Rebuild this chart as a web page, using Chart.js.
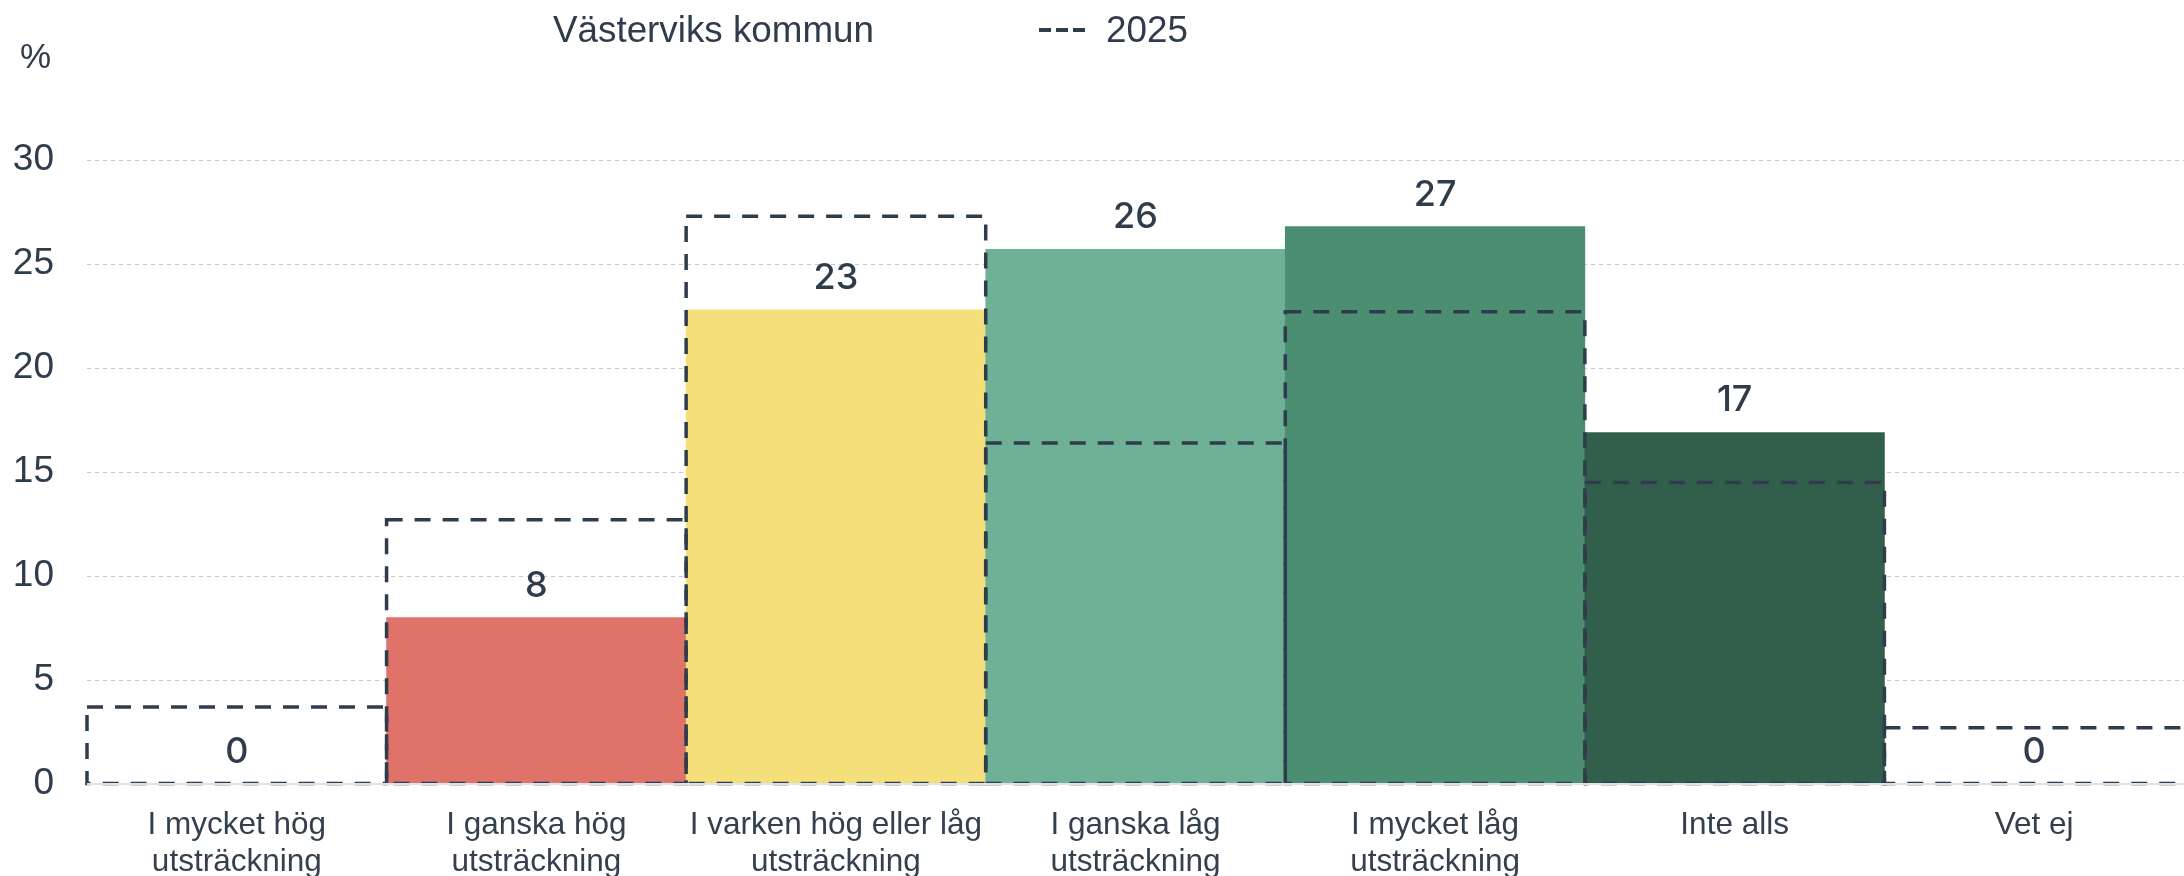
<!DOCTYPE html>
<html>
<head>
<meta charset="utf-8">
<script src="https://cdn.jsdelivr.net/npm/chart.js@4.4.1/dist/chart.umd.min.js"></script>
<style>
  html, body { margin: 0; padding: 0; background: #fff; }
  #wrap { position: relative; width: 2184px; height: 876px; }
  #legend {
    position: absolute; top: 9px; left: 553px;
    font: 36.8px "Liberation Sans", Arial, sans-serif; color: #2f3c4b;
    display: flex; align-items: center; white-space: nowrap;
  }
  #legend .swatch {
    display: inline-block; width: 46px; height: 4px; margin: 0 21px 0 165px;
    background: repeating-linear-gradient(90deg, #2f3c4b 0 12px, transparent 12px 17px);
  }
  #unit {
    position: absolute; left: 20px; top: 36px;
    font: 35px "Liberation Sans", Arial, sans-serif; color: #2f3c4b;
  }
</style>
</head>
<body>
<div id="wrap">
  <canvas id="chart_kommun" width="2184" height="876"></canvas>
  <div id="legend"><span>Västerviks kommun</span><span class="swatch"></span><span>2025</span></div>
  <div id="unit">%</div>
</div>
<script>
// data
const categories = [
  ["I mycket hög", "utsträckning"],
  ["I ganska hög", "utsträckning"],
  ["I varken hög eller låg", "utsträckning"],
  ["I ganska låg", "utsträckning"],
  ["I mycket låg", "utsträckning"],
  "Inte alls",
  "Vet ej",
];
const kommunValues = [0, 8.0, 22.8, 25.7, 26.8, 16.9, 0];
const values2025 = [3.7, 12.7, 27.3, 16.4, 22.7, 14.5, 2.7];
const barColors = ["#e07369", "#e07369", "#f5df7a", "#6fb196", "#4c8e72", "#325e4c", "#325e4c"];
const yTicks = [0, 5, 10, 15, 20, 25, 30];

const darkText = "#2f3c4b";

// dashed 2025 frames + value labels on top of the bars
const overlayPlugin = {
  id: "overlay",
  afterDatasetsDraw(chart) {
    const ctx = chart.ctx;
    const area = chart.chartArea;
    const base = chart.scales.y.getPixelForValue(0);

    ctx.save();
    // the last frame runs off the right edge in the original
    ctx.beginPath();
    ctx.rect(0, 0, area.right - 2, chart.height);
    ctx.clip();
    ctx.strokeStyle = darkText;
    ctx.lineWidth = 3.5;
    ctx.setLineDash([16, 12]);
    chart.getDatasetMeta(1).data.forEach((bar) => {
      const p = bar.getProps(["x", "y", "base", "width"], true);
      ctx.strokeRect(p.x - p.width / 2, p.y, p.width, p.base - p.y);
    });
    ctx.restore();

    ctx.save();
    // axis line
    ctx.strokeStyle = "#dde3ea";
    ctx.lineWidth = 2;
    ctx.beginPath();
    ctx.moveTo(area.left, base);
    ctx.lineTo(area.right, base);
    ctx.stroke();

    ctx.fillStyle = darkText;
    ctx.font = "550 36px Inter";
    ctx.textAlign = "center";
    ctx.textBaseline = "alphabetic";
    chart.getDatasetMeta(0).data.forEach((bar, i) => {
      ctx.fillText(Math.round(kommunValues[i]), bar.x, bar.y - 21);
    });
    ctx.restore();
  },
};

var ctx = document.getElementById("chart_kommun").getContext("2d");
var myChart = new Chart(ctx, {
  type: "bar",
  data: {
    labels: categories,
    datasets: [
      {
        label: "Västerviks kommun",
        data: kommunValues,
        backgroundColor: barColors,
        borderWidth: 0,
        grouped: false,
        barPercentage: 1,
        categoryPercentage: 1,
        order: 2,
      },
      {
        label: "2025",
        data: values2025,
        backgroundColor: "rgba(0,0,0,0)",
        borderWidth: 0,
        grouped: false,
        barPercentage: 1,
        categoryPercentage: 1,
        order: 1,
      },
    ],
  },
  options: {
    responsive: false,
    animation: false,
    layout: {
      padding: { top: 160, right: 0, bottom: 0, left: 0 },
    },
    plugins: {
      legend: { display: false },
      tooltip: { enabled: false },
    },
    scales: {
      x: {
        grid: { display: false, drawTicks: false },
        border: { display: false },
        ticks: {
          color: "#34404e",
          font: { family: "'Liberation Sans', Arial, sans-serif", size: 31.5, lineHeight: 1.2 },
          padding: 22,
          maxRotation: 0,
          autoSkip: false,
        },
        afterFit: function (scale) {
          scale.height = 92;
        },
      },
      y: {
        min: 0,
        max: 30,
        afterBuildTicks: function (scale) {
          scale.ticks = yTicks.map((v) => ({ value: v }));
        },
        grid: { color: "#c8c8c8", lineWidth: 1, drawTicks: false },
        border: { display: false, dash: [4, 4] },
        ticks: {
          color: darkText,
          font: { family: "'Liberation Sans', Arial, sans-serif", size: 37 },
          padding: 33,
        },
        afterFit: function (scale) {
          scale.width = 87;
        },
      },
    },
  },
  plugins: [overlayPlugin],
});
</script>
</body>
</html>
